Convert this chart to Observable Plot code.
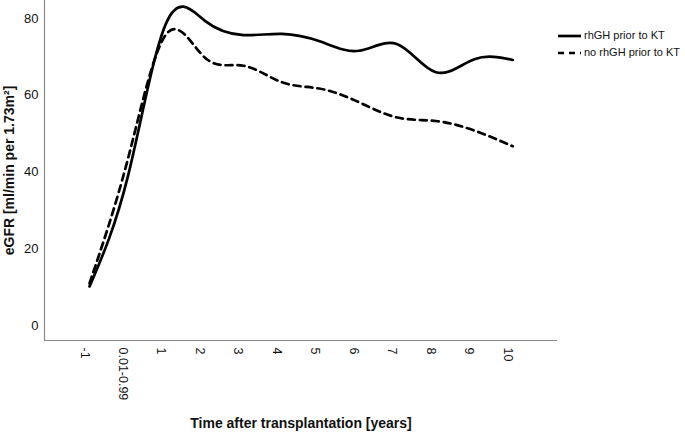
<!DOCTYPE html>
<html>
<head>
<meta charset="utf-8">
<script src="https://cdn.jsdelivr.net/npm/d3@7"></script>
<script src="https://cdn.jsdelivr.net/npm/@observablehq/plot@0.6"></script>
<style>
  body { margin: 0; background: #fff; }
  #wrap { position: relative; width: 685px; height: 434px; font-family: "Liberation Sans", Arial, sans-serif; }
  #legend { position: absolute; left: 557px; top: 27px; font-size: 11px; color: #111; line-height: 17px; }
  #legend div { display: flex; align-items: center; white-space: nowrap; }
  #legend svg { margin-right: 2px; }
</style>
</head>
<body>
<div id="wrap"></div>
<script>
const categories = ["-1", "0.01-0.99", "1", "2", "3", "4", "5", "6", "7", "8", "9", "10"];
const rhGH   = [10.2, 39.0, 79.0, 79.4, 75.7, 76.0, 74.0, 71.6, 73.3, 66.0, 69.4, 69.2];
const noRhGH = [11.0, 43.5, 76.0, 69.8, 67.7, 63.4, 61.7, 58.2, 54.2, 53.3, 50.8, 46.7];
const seriesNames = ["rhGH prior to KT", "no rhGH prior to KT"];
const yTicks = [0, 20, 40, 60, 80];

const rows = [];
categories.forEach((c, i) => {
  rows.push({i, v: rhGH[i], s: seriesNames[0]});
  rows.push({i, v: noRhGH[i], s: seriesNames[1]});
});

const plot = Plot.plot({
  width: 685,
  height: 434,
  marginLeft: 44,
  marginTop: 0,
  marginRight: 128,
  marginBottom: 94,
  style: {fontFamily: "'Liberation Sans', Arial, sans-serif", fontSize: "13px", color: "#111", background: "#fff"},
  x: {domain: [-1.17, 12.16], axis: null},
  y: {domain: [-3.9, 84.7], axis: null},
  marks: [
    Plot.axisY({ticks: yTicks, tickSize: 0, tickPadding: 6, label: null, fontSize: 13}),
    Plot.axisX({ticks: d3.range(categories.length), tickFormat: i => categories[i], tickRotate: 90, tickSize: 0, tickPadding: 7, dx: -5, label: null, fontSize: 12.5}),
    Plot.ruleX([-1.17], {stroke: "#888", strokeWidth: 1.2}),
    Plot.ruleY([-3.9], {stroke: "#888", strokeWidth: 1.2}),
    Plot.line(rows.filter(d => d.s === seriesNames[0]), {x: "i", y: "v", curve: "natural", stroke: "#000", strokeWidth: 2.7}),
    Plot.line(rows.filter(d => d.s === seriesNames[1]), {x: "i", y: "v", curve: "natural", stroke: "#000", strokeWidth: 2.7, strokeDasharray: "7,5"}),
    Plot.text(["Time after transplantation [years]"], {frameAnchor: "bottom", dy: 87, fontWeight: "bold", fontSize: 14, fill: "#111"}),
    Plot.text(["eGFR [ml/min per 1.73m²]"], {frameAnchor: "left", textAnchor: "middle", dx: -35, dy: 0, rotate: -90, fontWeight: "bold", fontSize: 14, fill: "#111"})
  ]
});
document.getElementById("wrap").appendChild(plot);

const legend = document.createElement("div");
legend.id = "legend";
const dashes = [null, "6,5"];
seriesNames.forEach((name, k) => {
  const row = document.createElement("div");
  row.innerHTML = `<svg width="25" height="10"><line x1="1" y1="5" x2="24" y2="5" stroke="#000" stroke-width="2.7" ${dashes[k] ? `stroke-dasharray="${dashes[k]}"` : ""}/></svg><span>${name}</span>`;
  legend.appendChild(row);
});
document.getElementById("wrap").appendChild(legend);
</script>
</body>
</html>
